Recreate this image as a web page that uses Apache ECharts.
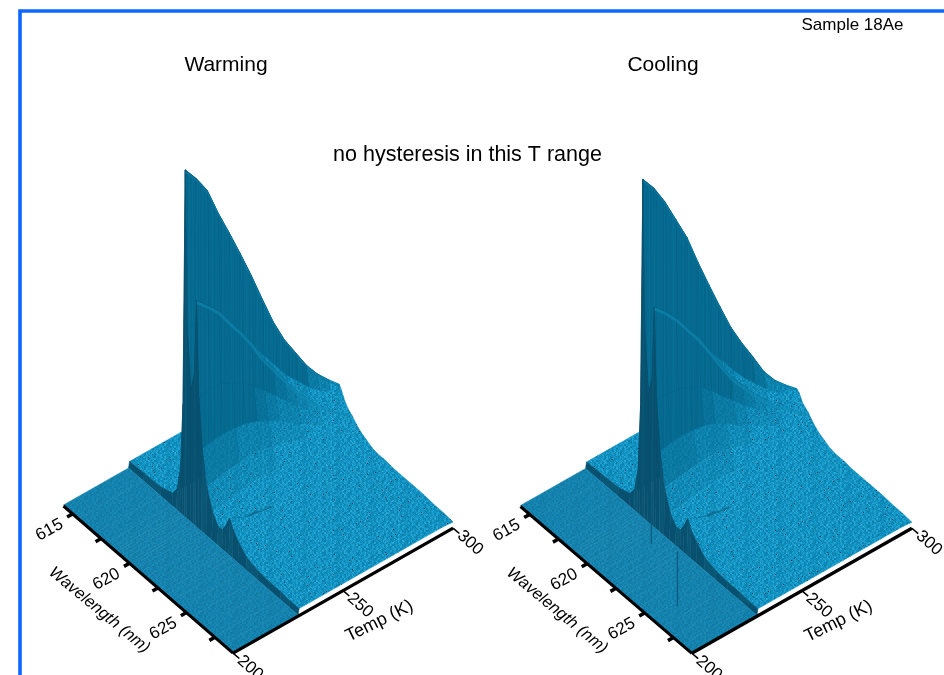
<!DOCTYPE html>
<html><head><meta charset="utf-8">
<style>html,body{margin:0;padding:0;background:#fff}#c{width:944px;height:675px}</style>
<script src="https://cdn.jsdelivr.net/npm/echarts@6/dist/echarts.min.js"></script>
</head><body><div id="c"></div>
<script>
// ---------- values ----------
const wavelengths = [614.2,615.5,617,618,618.4,618.7,618.9,619.1,619.3,619.6,619.9,620.1,620.3,620.6,621,621.5,622,622.4,622.7,623,623.3,623.8,624.5,625.5,626.5,627.5,628.3,629.1];
const temps = [200,229.6,230,235,240,245,250,255,260,265,270,275,280,285,290,295,300];
const bandRow = [0,0,0,0,0,0,0,0,0,0,0,0,0,0,0,0,0,0,0,0,0,0,0,0,0,0,0,0];
const warming = [
 bandRow, bandRow,
 [6,7,8,12,20,45,110,346,190,130,150,225,130,82,48,28,18,19,26,36,28,20,12,8,7,7,6,6],
 [6,7,8,12,20,46,112,331,190,132,150,214,132,84,50,29,19,19,24,30,26,20,13,9,7,7,6,6],
 [6,7,8,12,21,47,110,313,188,132,148,202,132,85,52,31,20,19,22,26,24,19,13,9,8,7,6,6],
 [6,7,8,12,21,47,106,284,176,128,142,185,126,84,53,33,21,19,21,24,22,18,13,9,8,7,6,6],
 [6,7,8,12,21,46,100,258,165,122,134,169,120,82,54,34,22,19,20,22,20,17,13,9,8,7,6,6],
 [6,7,8,12,21,45,94,231,150,114,124,151,110,78,53,34,22,19,19,20,19,16,13,10,8,7,6,6],
 [6,7,8,12,20,42,86,203,134,104,112,130,99,72,50,33,22,19,18,18,18,16,13,10,8,7,6,6],
 [6,7,8,11,20,40,78,173,118,94,100,113,88,66,47,32,22,18,17,17,17,15,13,10,8,7,6,6],
 [6,7,8,11,19,37,68,144,102,82,88,96,76,58,43,30,21,17,16,16,16,15,12,10,8,7,6,6],
 [6,7,8,11,18,33,58,120,86,72,76,79,65,50,38,27,19,16,15,14,14,13,12,10,8,7,6,6],
 [6,7,8,10,16,29,49,101,74,62,64,65,55,43,33,24,17,14,13,13,12,12,11,9,8,7,6,6],
 [6,7,8,10,15,25,41,82,62,52,54,52,46,36,28,21,15,13,12,11,11,11,10,9,8,7,6,6],
 [6,7,7,9,13,22,35,67,52,44,44,42,38,30,24,18,14,11,10,10,10,10,9,8,7,7,6,6],
 [6,6,7,9,12,20,30,55,46,38,36,33,30,25,20,15,12,10,9,9,9,9,8,8,7,6,6,6],
 [6,6,7,8,11,17,26,44,40,32,27,25,23,19,15,12,9,8,8,8,8,7,7,7,7,6,6,5]
];
const cooling = [
 bandRow, bandRow,
 [6,7,8,12,20,44,108,337,186,128,146,219,128,80,47,27,18,19,26,36,28,20,12,8,7,7,6,6],
 [6,7,8,12,20,45,110,322,184,128,146,208,128,82,49,28,19,19,24,31,26,20,13,9,7,7,6,6],
 [6,7,8,12,21,46,108,302,180,128,142,195,126,83,51,30,20,19,22,26,24,19,13,9,8,7,6,6],
 [6,7,8,12,21,46,104,278,172,124,138,179,122,82,52,32,21,19,21,24,22,18,13,9,8,7,6,6],
 [6,7,8,12,21,45,98,254,160,118,130,163,116,80,53,33,22,19,20,22,20,17,13,9,8,7,6,6],
 [6,7,8,12,21,44,90,223,146,110,120,144,106,76,52,33,22,19,19,20,19,16,13,10,8,7,6,6],
 [6,7,8,12,20,41,82,194,128,100,108,124,94,70,49,32,22,19,18,18,18,16,13,10,8,7,6,6],
 [6,7,8,11,20,39,74,166,114,90,96,105,84,62,45,31,22,18,17,17,17,15,13,10,8,7,6,6],
 [6,7,8,11,19,36,66,139,98,80,85,91,72,56,42,29,21,17,16,16,16,15,12,10,8,7,6,6],
 [6,7,8,11,18,32,56,117,84,70,74,77,63,49,37,26,19,16,15,14,14,13,12,10,8,7,6,6],
 [6,7,8,10,16,28,48,97,72,60,63,64,54,42,32,24,17,14,13,13,12,12,11,9,8,7,6,6],
 [6,7,8,10,15,24,40,76,60,50,53,52,45,35,28,21,15,13,12,11,11,11,10,9,8,7,6,6],
 [6,7,7,9,13,22,34,61,50,43,44,44,38,30,24,18,14,11,10,10,10,10,9,8,7,7,6,6],
 [6,6,7,9,12,20,29,50,44,38,37,35,31,25,20,15,12,10,9,9,9,9,8,8,7,6,6,6],
 [6,6,7,8,11,17,25,40,38,31,28,26,23,19,15,12,9,8,8,8,8,7,7,7,7,6,6,5]
];
const coolingSpikeT = [223.4,210.7];
const coolingSpikeWl = [621.1,625.8];
const coolingSpikeZ = [52,55];
const ridgeColumns = [7,11];
const wlTicks = [615,617.5,620,622.5,625,627.5];
const wlLabels = [615,620,625];
const tempTicks = [200,250,300];
const panelTitles = ['Warming','Cooling'];
const noteText = 'no hysteresis in this T range';
const sampleText = 'Sample 18Ae';

// ---------- speckle tiles (hand-typed shade digits, styling only) ----------
const tileA = ['3a71e05c92b4d','b08f26d1a7394','6e2c94b0f3815','1d7a35e8c06b2','94c0b7126fd3a','e36d18a4b5207','57b29fc03e1d6','a04e6371d9c82','2fc8b05a9e346','d6139e47b2a05','48ae02d6c71f3'];
const tileB = ['5c19e3a70d6b2f849','0f7b42c96ae1d3058','b3e60895f2c174da7','82da1f6c03b9e7546','6a04d7eb3185c2f90','e1953c08af76b4d21','37c8b6f2d049ae135'];
const hex = c => parseInt(c,16);
function shadeCanvas(base, light, dark, amp, dots, streak){
  const W=26*34,H=22*14,cv=document.createElement('canvas');cv.width=W;cv.height=H;
  const g=cv.getContext('2d'),im=g.createImageData(W,H);
  for(let y=0;y<H;y++)for(let x=0;x<W;x++){
    const a=hex(tileA[(streak?0:y)%11][x%13]);
    const b=hex(tileB[(streak?0:(y>>1))%7][(x>>1)%17]); // coarser blotches
    let s=(a*0.8+b*1.2)/30-0.5; s=Math.max(-1,Math.min(1,s*2*amp));
    const t=s<0?dark:light,k=Math.abs(s);
    let c=[0,1,2].map(n=>base[n]+(t[n]-base[n])*k);
    if(dots&&a===15&&b>=dots)c=[6,48,68];
    const o=(y*W+x)*4;im.data[o]=c[0];im.data[o+1]=c[1];im.data[o+2]=c[2];im.data[o+3]=255;
  }
  g.putImageData(im,0,0);
  return {image:cv,repeat:'repeat'};
}
const mix=(a,b,k)=>a.map((v,n)=>v+(b[n]-v)*k);
const bandFill = shadeCanvas([20,130,174],[28,144,188],[15,116,156],0.8,0);
// graded fills from the smooth steep wall (0) to the speckled plateau (last)
const grades=[0,0.2,0.4,0.6,0.8,1].map(k=>{
  if(k===0) return shadeCanvas([6,106,144],[8,114,152],[5,98,134],0.7,0,true);
  return shadeCanvas(mix([6,106,144],[16,146,194],k),mix([8,114,152],[40,176,224],k),mix([5,98,134],[11,122,164],k),0.35+0.65*k,k>0.7?14:0);
});
const curtain='#08506f', shadow='#083f58';

// ---------- projection of the 3D box on the page ----------
const panels = [
 {rows:warming, ox:63.5, oy:505, tx:2.2, ty:-1.25, wx:11.38, wy:9.87},
 {rows:cooling, ox:520.5, oy:505.5, tx:2.2, ty:-1.25, wx:11.5, wy:9.85}
];
const wlMin=wavelengths[0], wlMax=wavelengths[wavelengths.length-1];
const project=(p,T,wl,z)=>[p.ox+(T-200)*p.tx+(wl-wlMin)*p.wx, p.oy+(T-200)*p.ty+(wl-wlMin)*p.wy-z];

function quadFill(p,i,j){
  const r=p.rows;
  if(i===0) return bandFill;
  if(i===1) return j%3===1?'#0a5675':curtain;
  const dz=((r[i][j+1]+r[i+1][j+1])-(r[i][j]+r[i+1][j]))/2;
  const s=dz/((wavelengths[j+1]-wavelengths[j])*p.wx);
  if(s>1.2) return shadow;
  if(s>0.45) return '#0a6c92';
  const k=Math.max(0,Math.min(1,(11+s)/9));
  return grades[Math.round(k*5)];
}
function surfaceSeries(p){
  const quads=[];
  for(let i=temps.length-2;i>=0;i--)for(let j=0;j<wavelengths.length-1;j++)quads.push([i,j]);
  return {type:'custom',coordinateSystem:'cartesian2d',data:quads,silent:true,clip:false,animation:false,progressive:0,z:2,
    renderItem:(params,api)=>{
      const i=api.value(0),j=api.value(1),r=p.rows;
      const pts=[[i,j],[i,j+1],[i+1,j+1],[i+1,j]].map(([a,b])=>api.coord(project(p,temps[a],wavelengths[b],r[a][b])));
      const f=quadFill(p,i,j);
      return {type:'polygon',shape:{points:pts},style:{fill:f,stroke:f,lineWidth:0.6}};
    }};
}
function ridgeSeries(p){
  return {type:'custom',coordinateSystem:'cartesian2d',data:ridgeColumns.map((c,i)=>[c,i]),silent:true,clip:false,animation:false,z:3,
    renderItem:(params,api)=>{
      const c=api.value(0),n=api.value(1),pts=[];
      for(let i=2;i<temps.length;i++)pts.push(api.coord(project(p,temps[i],wavelengths[c]+0.03,p.rows[i][c]-1.5)));
      return {type:'polyline',shape:{points:pts},style:{fill:'none',stroke:n?'#1088b2':'#0a7ba4',lineWidth:n?3:1.2,opacity:n?0.6:0.8}};
    }};
}
function axisSeries(p){
  const line=(a,b,w)=>({type:'line',shape:{x1:a[0],y1:a[1],x2:b[0],y2:b[1]},style:{stroke:'#000',lineWidth:w}});
  const font=(s,st)=>`${st||'normal'} ${s}px "Liberation Sans"`;
  const text=(c,str,rot,size,st)=>({type:'text',x:c[0],y:c[1],rotation:rot,style:{text:String(str),font:font(size,st),fill:'#000',align:'center',verticalAlign:'middle'}});
  return {type:'custom',coordinateSystem:'cartesian2d',data:[[0,0]],silent:true,clip:false,animation:false,z:5,
    renderItem:(params,api)=>{
      const P=(T,wl,z)=>api.coord(project(p,T,wl,z||0));
      const els=[];
      els.push(line(P(200,wlMin,-1),P(200,wlMax,-1),3));
      els.push(line(P(200,wlMax,-1),P(300,wlMax,-1),3.2));
      wlTicks.forEach(w=>els.push(line(P(200,w,-1),P(197.5,w,-1),3.5)));
      tempTicks.forEach(T=>els.push(line(P(T,wlMax,-1),P(T,wlMax+0.55,-1),1.6)));
      wlLabels.forEach(w=>els.push(text(P(189.5,w,-4),w,0.5,17)));
      tempTicks.forEach(T=>els.push(text(P(T,wlMax+1.5,-1),T,-0.72,17)));
      els.push(text(P(181.6,620.9,-16),'Wavelength (nm)',-0.69,16.5,'italic'));
      els.push(text(P(250.3,wlMax+3.14,-1),'Temp (K)',0.46,18));
      return {type:'group',children:els};
    }};
}
function spikeSeries(p){
  return {type:'custom',coordinateSystem:'cartesian2d',data:coolingSpikeT.map((t,i)=>[i,0]),silent:true,clip:false,animation:false,z:3,
    renderItem:(params,api)=>{
      const k=api.value(0);
      const a=api.coord(project(p,coolingSpikeT[k],coolingSpikeWl[k],0));
      const b=api.coord(project(p,coolingSpikeT[k],coolingSpikeWl[k],coolingSpikeZ[k]));
      return {type:'line',shape:{x1:a[0],y1:a[1],x2:b[0],y2:b[1]},style:{stroke:'#0a5a7c',lineWidth:1.2}};
    }};
}
const tt=(text,left,top,size)=>({text,left,top,textAlign:'center',padding:0,textStyle:{fontFamily:'Liberation Sans',fontWeight:'normal',fontSize:size,color:'#000'}});
const chart=echarts.init(document.getElementById('c'),null,{renderer:'canvas'});
chart.setOption({
  animation:false,backgroundColor:'#fff',
  title:[tt(panelTitles[0],226,55,21),tt(panelTitles[1],663,55,21),tt(noteText,467.5,144,21.5),tt(sampleText,852.5,17,17)],
  grid:{left:0,right:0,top:0,bottom:0},
  xAxis:{type:'value',min:0,max:944,show:false},
  yAxis:{type:'value',min:0,max:675,inverse:true,show:false},
  series:[surfaceSeries(panels[0]),surfaceSeries(panels[1]),ridgeSeries(panels[0]),ridgeSeries(panels[1]),spikeSeries(panels[1]),axisSeries(panels[0]),axisSeries(panels[1])],
  graphic:[
    {type:'rect',shape:{x:20,y:11,width:930,height:680},style:{fill:'none',stroke:'#0d66ff',lineWidth:3.6},z:10,silent:true}
  ]
});
</script></body></html>
